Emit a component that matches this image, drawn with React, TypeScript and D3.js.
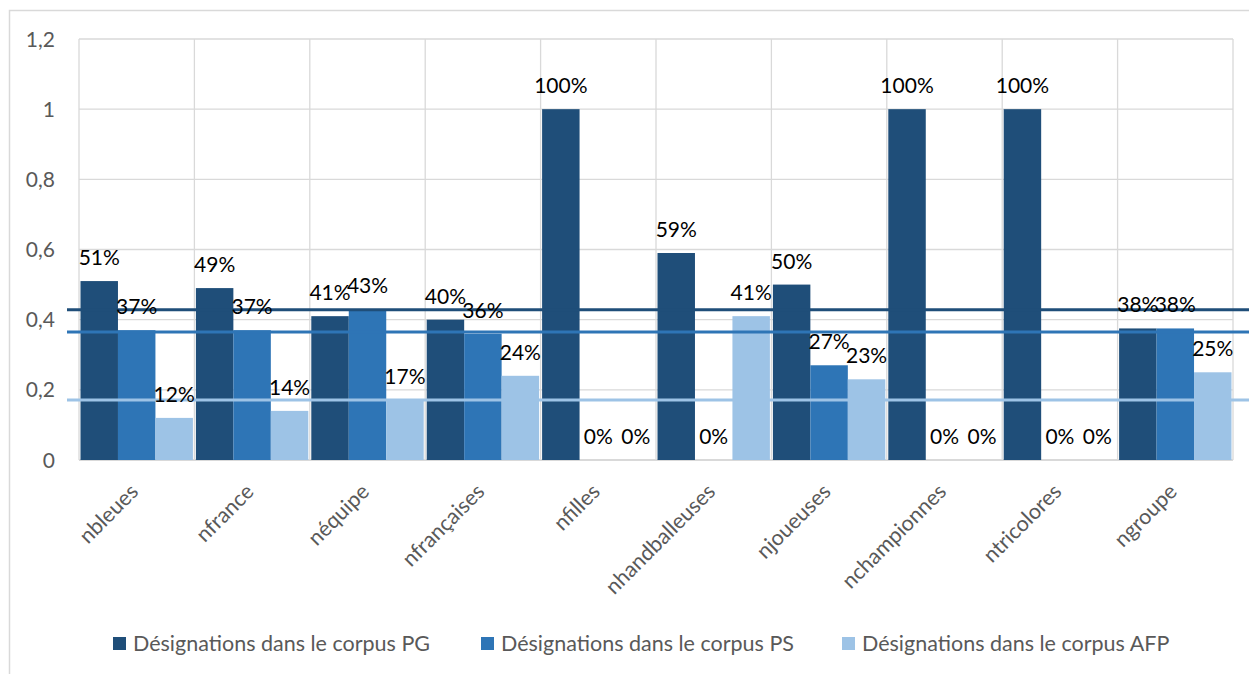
import React from "react";
import * as d3 from "d3";

const categories = ["nbleues", "nfrance", "néquipe", "nfrançaises", "nfilles", "nhandballeuses", "njoueuses", "nchampionnes", "ntricolores", "ngroupe"];
const seriesNames = ["Désignations dans le corpus PG", "Désignations dans le corpus PS", "Désignations dans le corpus AFP"];
const pgValues = [0.51, 0.49, 0.41, 0.40, 1.0, 0.59, 0.50, 1.0, 1.0, 0.375];
const psValues = [0.37, 0.37, 0.43, 0.36, 0, 0, 0.27, 0, 0, 0.375];
const afpValues = [0.12, 0.14, 0.17, 0.24, 0, 0.41, 0.23, 0, 0, 0.25];
const pgLabels = ["51%", "49%", "41%", "40%", "100%", "59%", "50%", "100%", "100%", "38%"];
const psLabels = ["37%", "37%", "43%", "36%", "0%", "0%", "27%", "0%", "0%", "38%"];
const afpLabels = ["12%", "14%", "17%", "24%", "0%", "41%", "23%", "0%", "0%", "25%"];
const averageLines = [0.428, 0.365, 0.171];
const yTicks = [0, 0.2, 0.4, 0.6, 0.8, 1, 1.2];
const colors = ["#1F4E79", "#2E75B6", "#9DC3E6"];

const W = 1249;
const H = 674;
const plotLeft = 79;
const plotRight = 1233;
const plotTop = 39;
const plotBottom = 460;

export default function App() {
  const x = d3.scaleBand<string>().domain(categories).range([plotLeft, plotRight]).padding(0);
  const bw = x.bandwidth();
  const sub = d3.scaleBand<string>().domain(["0", "1", "2"]).range([1.5, bw - 1.5]).padding(0);
  const y = d3.scaleLinear().domain([0, 1.2]).range([plotBottom, plotTop]);
  const values = [pgValues, psValues, afpValues];
  const labels = [pgLabels, psLabels, afpLabels];
  const font = "Lato, 'Open Sans', sans-serif";
  const fmt = (v: number) => String(Math.round(v * 10) / 10).replace(".", ",");
  const legendX = [113, 481, 842];

  return (
    <svg width={W} height={H} style={{ position: "absolute", left: 0, top: 0, background: "#fff" }} fontFamily={font}>
      <rect x={9.5} y={10.5} width={1300} height={720} fill="#fff" stroke="#d9d9d9" strokeWidth={1.5} />
      {yTicks.map((t) => (
        <line key={"g" + t} x1={plotLeft} x2={plotRight} y1={y(t)} y2={y(t)} stroke="#d9d9d9" strokeWidth={t === 0 ? 2 : 1.3} />
      ))}
      {[...categories.map((c) => x(c)!), plotRight].map((vx, i) => (
        <line key={"v" + i} x1={vx} x2={vx} y1={plotTop} y2={plotBottom} stroke="#d9d9d9" strokeWidth={1.3} />
      ))}
      {yTicks.map((t) => (
        <text key={"t" + t} x={55} y={y(t)} dy="0.36em" textAnchor="end" fontSize={21} fill="#595959">
          {fmt(t)}
        </text>
      ))}
      {values.map((vals, s) =>
        vals.map((v, i) => (
          <rect key={`b${s}-${i}`} x={x(categories[i])! + sub(String(s))!} y={y(v)} width={sub.bandwidth()} height={plotBottom - y(v)} fill={colors[s]} />
        ))
      )}
      {averageLines.map((v, s) => (
        <line key={"a" + s} x1={67} x2={W} y1={y(v)} y2={y(v)} stroke={colors[s]} strokeWidth={3} />
      ))}
      {values.map((vals, s) =>
        vals.map((v, i) => (
          <text key={`l${s}-${i}`} x={x(categories[i])! + sub(String(s))! + sub.bandwidth() / 2} y={y(v) - 16} textAnchor="middle" fontSize={21} fill="#000">
            {labels[s][i]}
          </text>
        ))
      )}
      {categories.map((c) => {
        const cx = x(c)! + bw / 2 + 3;
        const cy = 493;
        return (
          <text key={"c" + c} x={cx} y={cy} transform={`rotate(-45, ${cx}, ${cy})`} textAnchor="end" fontSize={21.5} fill="#595959">
            {c}
          </text>
        );
      })}
      {seriesNames.map((n, s) => (
        <g key={"lg" + s}>
          <rect x={legendX[s]} y={637} width={13} height={13} fill={colors[s]} />
          <text x={legendX[s] + 20} y={651} fontSize={21.5} fill="#595959">
            {n}
          </text>
        </g>
      ))}
    </svg>
  );
}
